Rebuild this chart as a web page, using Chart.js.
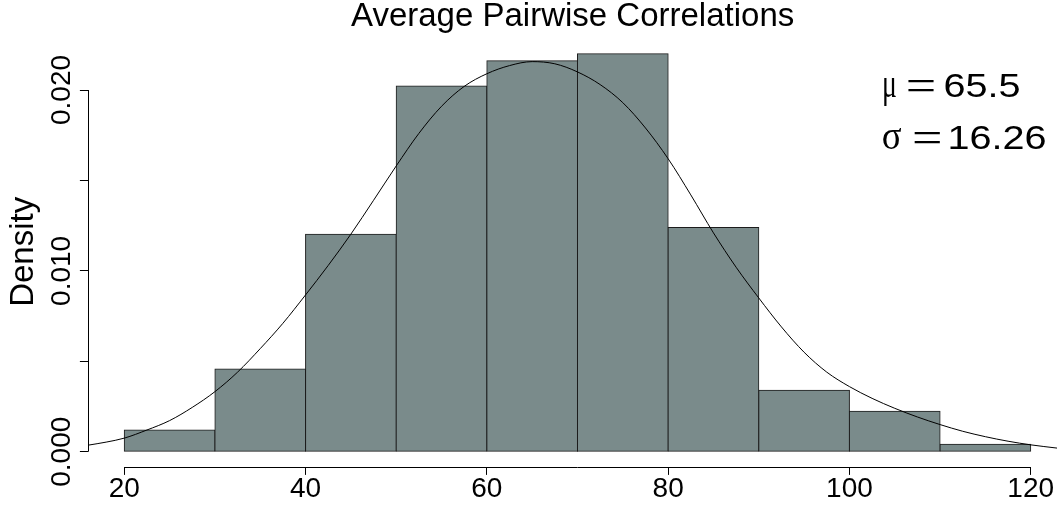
<!DOCTYPE html>
<html>
<head>
<meta charset="utf-8">
<script src="https://cdn.jsdelivr.net/npm/chart.js@4/dist/chart.umd.min.js"></script>
<style>
  html, body { margin: 0; padding: 0; background: #ffffff; }
  #wrap { width: 1057px; height: 506px; }
</style>
</head>
<body>
<div id="wrap"><canvas id="chart" width="1057" height="506"></canvas></div>
<script>
// Histogram bins (centres of 10-wide bins) and their densities
const binCenters = [25, 35, 45, 55, 65, 75, 85, 95, 105, 115];
const densities  = [0.0012, 0.00458, 0.01203, 0.02022, 0.02162, 0.02201, 0.0124, 0.0034, 0.00224, 0.00041];

// Fitted density curve, sampled along the x range
const curveX = [16.0, 18.0, 20.0, 22.5, 25.0, 27.5, 30.0, 32.5, 35.0, 37.5, 40.0, 42.5, 45.0, 47.5, 50.0,
                52.5, 55.0, 57.5, 60.0, 62.5, 65.0, 67.5, 70.0, 72.5, 75.0, 77.5, 80.0, 82.5, 85.0, 87.5,
                90.0, 92.5, 95.0, 97.5, 100.0, 102.5, 105.0, 107.5, 110.0, 112.5, 115.0, 117.5, 120.0, 122.9];
const curveY = [0.00036, 0.00053, 0.00075, 0.0012, 0.00172, 0.00245, 0.00332, 0.0044, 0.0057, 0.0071, 0.00867, 0.0103, 0.01203, 0.0139, 0.0158,
                0.0176, 0.0191, 0.0202, 0.0209, 0.02135, 0.02157, 0.02145, 0.021, 0.0203, 0.0193, 0.0179, 0.0162, 0.0142, 0.0121, 0.0102,
                0.0085, 0.0069, 0.0055, 0.0044, 0.0036, 0.00295, 0.0024, 0.00192, 0.0015, 0.00113, 0.00083, 0.00058, 0.00038, 0.0002];

// Axis ticks
const xTicks = [20, 40, 60, 80, 100, 120];
const yTicks = [0, 0.005, 0.010, 0.015, 0.020];
const yTickLabels = [0, 0.010, 0.020];

// Summary statistics shown in the corner
const meanValue = 65.5;
const sdValue = 16.26;

const SANS = '"Liberation Sans", Arial, Helvetica, sans-serif';
const SERIF = '"Liberation Serif", "Times New Roman", serif';

function piece(ctx, text, font, x, y, sx, align, baseline) {
  ctx.save();
  ctx.translate(x, y);
  ctx.scale(sx, 1);
  ctx.font = font;
  ctx.textAlign = align;
  ctx.textBaseline = baseline;
  ctx.fillStyle = '#000';
  ctx.fillText(text, 0, 0);
  ctx.restore();
}

const axesAndNotes = {
  id: 'axesAndNotes',
  afterDraw(chart) {
    const { ctx, scales: { x, y }, chartArea } = chart;
    ctx.save();
    ctx.strokeStyle = '#000';
    ctx.lineWidth = 1;

    // x axis line between the first and last tick
    const yb = Math.round(chartArea.bottom) + 0.5;
    ctx.beginPath();
    ctx.moveTo(x.getPixelForValue(xTicks[0]), yb);
    ctx.lineTo(x.getPixelForValue(xTicks[xTicks.length - 1]), yb);
    ctx.stroke();

    // y axis line between the first and last tick
    const xl = Math.round(chartArea.left) + 0.5;
    ctx.beginPath();
    ctx.moveTo(xl, y.getPixelForValue(yTicks[0]));
    ctx.lineTo(xl, y.getPixelForValue(yTicks[yTicks.length - 1]));
    ctx.stroke();

    // rotated y tick labels
    ctx.fillStyle = '#000';
    ctx.font = '28px ' + SANS;
    ctx.textAlign = 'center';
    ctx.textBaseline = 'alphabetic';
    yTickLabels.forEach(v => {
      ctx.save();
      ctx.translate(70, y.getPixelForValue(v));
      ctx.rotate(-Math.PI / 2);
      ctx.fillText(v.toFixed(3), 0, 0);
      ctx.restore();
    });
    ctx.restore();

    // mean and standard deviation
    piece(ctx, '\u03bc', '42px ' + SERIF, 889.4, 97.3, 0.66, 'center', 'alphabetic');
    piece(ctx, '=', '45px ' + SERIF, 920.9, 87.8, 1.2, 'center', 'middle');
    piece(ctx, String(meanValue), '33px ' + SANS, 943.4, 97.3, 1.2, 'left', 'alphabetic');

    piece(ctx, '\u03c3', '40px ' + SERIF, 891.7, 149.3, 0.92, 'center', 'alphabetic');
    piece(ctx, '=', '45px ' + SERIF, 927.3, 139.8, 1.2, 'center', 'middle');
    piece(ctx, String(sdValue), '33px ' + SANS, 947.4, 149.3, 1.2, 'left', 'alphabetic');
  }
};

new Chart(document.getElementById('chart'), {
  type: 'bar',
  data: {
    datasets: [
      {
        type: 'line',
        data: curveX.map((v, i) => ({ x: v, y: curveY[i] })),
        borderColor: '#000000',
        borderWidth: 1,
        pointRadius: 0,
        fill: false,
        cubicInterpolationMode: 'monotone',
        order: 1
      },
      {
        type: 'bar',
        data: binCenters.map((c, i) => ({ x: c, y: densities[i] })),
        backgroundColor: '#7A8B8B',
        borderColor: '#1c1c1c',
        borderWidth: 1,
        borderSkipped: false,
        inflateAmount: 0.5,
        categoryPercentage: 1,
        barPercentage: 1,
        order: 2
      }
    ]
  },
  options: {
    responsive: false,
    animation: false,
    devicePixelRatio: 1,
    layout: { padding: 0 },
    plugins: {
      legend: { display: false },
      tooltip: { enabled: false },
      title: {
        display: true,
        text: 'Average Pairwise Correlations',
        fullSize: false,
        color: '#000',
        font: { family: SANS, size: 33, weight: 'normal', lineHeight: 1 },
        padding: { top: 0, bottom: 3.3 }
      }
    },
    scales: {
      x: {
        type: 'linear',
        min: 16.02,
        max: 122.9,
        offset: false,
        afterBuildTicks: s => { s.ticks = xTicks.map(v => ({ value: v })); },
        afterFit: s => { s.height = 38.6; },
        grid: { display: true, drawOnChartArea: false, drawTicks: true, tickLength: 7.5, color: '#000', lineWidth: 1, offset: false },
        border: { display: false },
        ticks: {
          color: '#000',
          font: { family: SANS, size: 28, lineHeight: 1 },
          padding: 0,
          maxRotation: 0,
          minRotation: 0,
          autoSkip: false,
          callback: v => String(v)
        }
      },
      y: {
        type: 'linear',
        min: -0.000868,
        max: 0.02297,
        afterBuildTicks: s => { s.ticks = yTicks.map(v => ({ value: v })); },
        afterFit: s => { s.width = 88.2; },
        grid: { display: true, drawOnChartArea: false, drawTicks: true, tickLength: 8.3, color: '#000', lineWidth: 1 },
        border: { display: false },
        ticks: { display: false },
        title: {
          display: true,
          text: 'Density',
          color: '#000',
          font: { family: SANS, size: 33, lineHeight: 1 },
          padding: { top: 7.4, bottom: 0 }
        }
      }
    }
  },
  plugins: [axesAndNotes]
});
</script>
</body>
</html>
